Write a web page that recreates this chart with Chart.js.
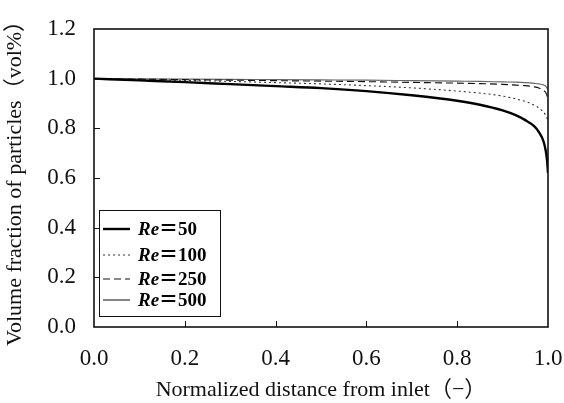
<!DOCTYPE html>
<html lang="en">
<head>
  <meta charset="UTF-8">
  <title>Volume fraction of particles</title>
  <script src="https://cdn.jsdelivr.net/npm/chart.js"></script>
  <style>
    body { margin: 0; background: #fff; }
    .wrap { width: 564px; height: 403px; }
  </style>
</head>
<body>
  <div class="wrap"><canvas id="chart" width="564" height="403"></canvas></div>

  <script>
    // normalized distance from inlet (shared by all series)
    const distance = [0, 0.1, 0.2, 0.3, 0.4, 0.5, 0.6, 0.7, 0.8, 0.85, 0.9, 0.93, 0.95, 0.97, 0.98, 0.99, 0.995, 0.998, 1.0];
    const re50  = [1.0, 0.993, 0.986, 0.978, 0.970, 0.962, 0.950, 0.933, 0.911, 0.895, 0.872, 0.852, 0.833, 0.808, 0.785, 0.748, 0.710, 0.670, 0.620];
    const re100 = [1.0, 0.997, 0.993, 0.989, 0.984, 0.979, 0.972, 0.963, 0.950, 0.942, 0.930, 0.918, 0.908, 0.893, 0.882, 0.866, 0.852, 0.840, 0.820];
    const re250 = [1.0, 0.998, 0.996, 0.994, 0.992, 0.990, 0.988, 0.985, 0.982, 0.980, 0.977, 0.974, 0.972, 0.967, 0.962, 0.953, 0.944, 0.930, 0.910];
    const re500 = [1.0, 0.999, 0.998, 0.997, 0.996, 0.995, 0.994, 0.992, 0.990, 0.989, 0.987, 0.986, 0.984, 0.981, 0.979, 0.975, 0.970, 0.962, 0.955];
    const reLabels = ['50', '100', '250', '500'];
    const xTicks = [0, 0.2, 0.4, 0.6, 0.8, 1.0];
    const yTicks = [0, 0.2, 0.4, 0.6, 0.8, 1.0, 1.2];

    const serif = "'Liberation Serif', 'DejaVu Serif', serif";
    const toPts = ys => ys.map((y, i) => ({ x: distance[i], y: y }));

    const series = [
      { data: re50,  color: '#000', width: 2.4, dash: [],     legendColor: '#000' },
      { data: re100, color: '#333', width: 1.1, dash: [2, 3], legendColor: '#333' },
      { data: re250, color: '#111', width: 1.1, dash: [7, 4], legendColor: '#111' },
      { data: re500, color: '#666', width: 1.1, dash: [],     legendColor: '#222' }
    ];

    // frame, inward ticks and legend box
    const decor = {
      id: 'decor',
      afterDatasetsDraw(chart) {
        const ctx = chart.ctx;
        const a = chart.chartArea;
        const xs = chart.scales.x, ys = chart.scales.y;
        ctx.save();
        ctx.strokeStyle = '#111';
        ctx.lineWidth = 1.6;
        ctx.strokeRect(a.left, a.top, a.right - a.left, a.bottom - a.top);
        ctx.lineWidth = 1;
        ctx.beginPath();
        xTicks.slice(1, -1).forEach(v => {
          const px = Math.round(xs.getPixelForValue(v)) + 0.5;
          ctx.moveTo(px, a.bottom); ctx.lineTo(px, a.bottom - 6);
        });
        yTicks.slice(1, -1).forEach(v => {
          const py = Math.round(ys.getPixelForValue(v)) + 0.5;
          ctx.moveTo(a.left, py); ctx.lineTo(a.left + 6, py);
        });
        ctx.stroke();

        // legend
        const bx = a.left + 5, by = 210, bw = 121, bh = 106;
        ctx.fillStyle = '#fff';
        ctx.fillRect(bx, by, bw, bh);
        ctx.strokeStyle = '#111';
        ctx.lineWidth = 1;
        ctx.strokeRect(bx + 0.5, by + 0.5, bw, bh);
        const rows = [229, 255, 279, 300];
        series.forEach((s, i) => {
          const y = rows[i];
          ctx.beginPath();
          ctx.setLineDash(s.dash);
          ctx.strokeStyle = s.legendColor;
          ctx.lineWidth = s.width;
          ctx.moveTo(bx + 4, y); ctx.lineTo(bx + 31, y);
          ctx.stroke();
          ctx.setLineDash([]);
          ctx.fillStyle = '#000';
          ctx.textBaseline = 'middle';
          ctx.textAlign = 'left';
          ctx.font = "italic bold 19px " + serif;
          let tx = bx + 39;
          ctx.fillText('Re', tx, y + 1);
          tx += ctx.measureText('Re').width;
          ctx.font = "bold 19px " + serif + ", 'Noto Sans CJK JP'";
          ctx.fillText('\uFF1D' + reLabels[i], tx, y + 1);
        });
        ctx.restore();
      }
    };

    new Chart(document.getElementById('chart'), {
      type: 'scatter',
      data: {
        datasets: series.map((s, i) => ({
          label: 'Re=' + reLabels[i],
          data: toPts(s.data),
          showLine: true,
          borderColor: s.color,
          borderWidth: s.width,
          borderDash: s.dash,
          pointRadius: 0,
          cubicInterpolationMode: 'monotone',
          fill: false
        }))
      },
      options: {
        responsive: false,
        animation: false,
        layout: { padding: { left: 2, top: 29, right: 16, bottom: 0 } },
        plugins: { legend: { display: false }, tooltip: { enabled: false } },
        scales: {
          x: {
            type: 'linear', min: 0, max: 1,
            afterBuildTicks: s => { s.ticks = xTicks.map(v => ({ value: v })); },
            afterFit: s => { s.height = 76; s.paddingLeft = 0; s.paddingRight = 0; },
            grid: { display: false },
            border: { display: false },
            ticks: { color: '#111', padding: 10, font: { family: serif, size: 23 }, callback: v => v.toFixed(1) },
            title: { display: true, text: 'Normalized distance from inlet（−）', color: '#111',
                     padding: { top: 4, bottom: 0 }, font: { family: serif + ", 'Noto Sans CJK JP'", size: 22 } }
          },
          y: {
            min: 0, max: 1.2,
            afterBuildTicks: s => { s.ticks = yTicks.map(v => ({ value: v })); },
            afterFit: s => { s.width = 92; s.paddingTop = 0; s.paddingBottom = 0; },
            grid: { display: false },
            border: { display: false },
            ticks: { color: '#111', padding: 10, font: { family: serif, size: 23 }, callback: v => v.toFixed(1) },
            title: { display: true, text: 'Volume fraction of particles（vol%）', color: '#111',
                     padding: { top: 0, bottom: 2 }, font: { family: serif + ", 'Noto Sans CJK JP'", size: 22 } }
          }
        }
      },
      plugins: [decor]
    });
  </script>
</body>
</html>
